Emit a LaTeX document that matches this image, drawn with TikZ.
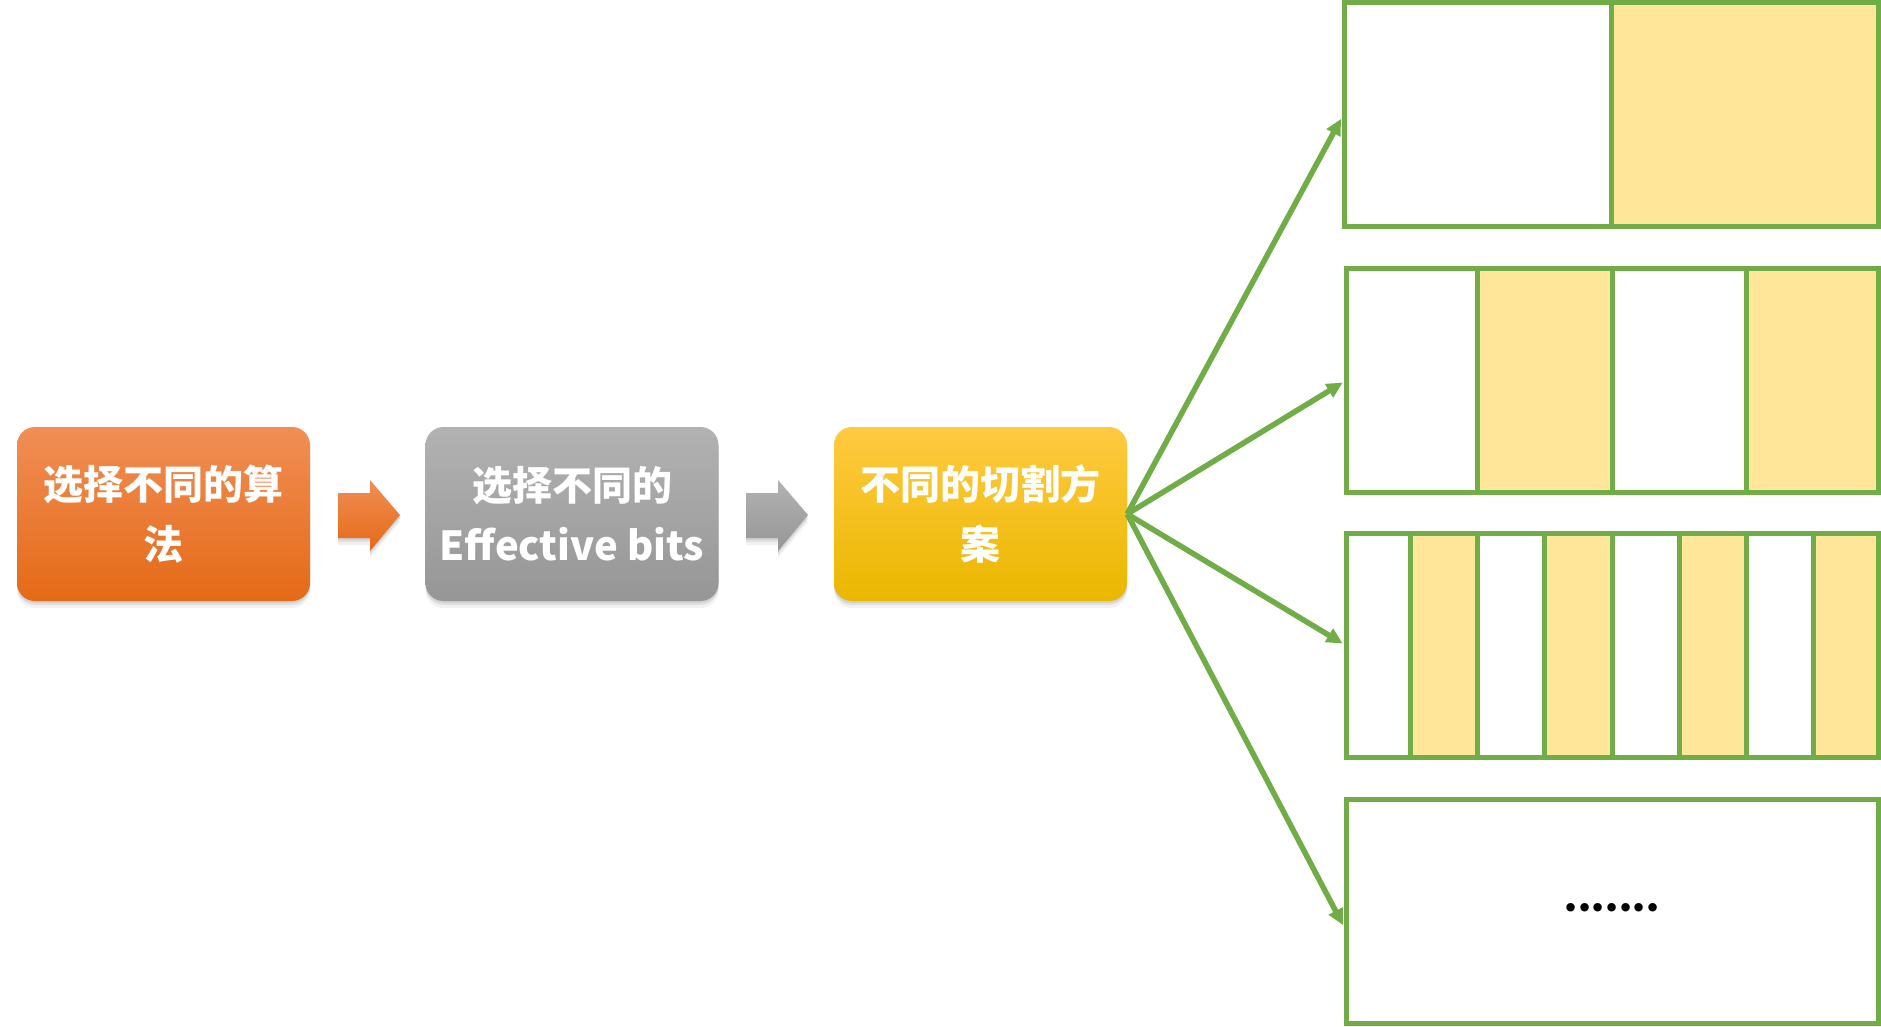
\documentclass[tikz,border=0pt]{standalone}
\usepackage{fontspec}
\newfontfamily\cjk{Noto Sans CJK SC}
\newfontfamily\dejavu{DejaVu Sans}
\usetikzlibrary{arrows.meta,shadows,calc,backgrounds}
\definecolor{orT}{RGB}{241,142,86}
\definecolor{orM}{RGB}{245,128,38}
\definecolor{orB}{RGB}{228,106,22}
\definecolor{grT}{RGB}{178,178,178}
\definecolor{grM}{RGB}{163,163,163}
\definecolor{grB}{RGB}{150,150,150}
\definecolor{ylT}{RGB}{255,202,64}
\definecolor{ylM}{RGB}{255,192,0}
\definecolor{ylB}{RGB}{234,183,0}
\definecolor{grn}{RGB}{112,173,71}
\definecolor{lyel}{RGB}{255,230,153}
\newcommand{\bulletrow}{•\kern-3.5pt•\kern-3.5pt•\kern-3.5pt•\kern-3.5pt•\kern-3.5pt•\kern-3.5pt•}
\tikzset{
  softshadow/.style={
    drop shadow={opacity=0.16, shadow xshift=0pt, shadow yshift=-2pt},
    drop shadow={opacity=0.14, shadow xshift=0pt, shadow yshift=-4pt},
    drop shadow={opacity=0.10, shadow xshift=0pt, shadow yshift=-7pt}},
  stepbox/.style={rectangle, rounded corners=18pt, minimum width=293pt,
    minimum height=174pt, inner sep=0pt, text=white, align=center,
    font=\cjk\bfseries\fontsize{40}{60}\selectfont, softshadow, shading=axis},
  cutbox/.style={rectangle, draw=grn, line width=5pt, minimum width=532pt,
    minimum height=224pt, inner sep=0pt},
  conn/.style={draw=grn, line width=5.5pt, -{Triangle[length=16pt,width=15pt]}, shorten >=1pt},
}
\begin{document}
\begin{tikzpicture}[x=1pt,y=-1pt]
\useasboundingbox (0,0) rectangle (1881,1026);

% process boxes
\node[stepbox, top color=orT, middle color=orM, bottom color=orB] (A) at (163.5,514)
  {选择不同的算\\法};
\node[stepbox, top color=grT, middle color=grM, bottom color=grB] (B) at (572,514)
  {选择不同的\\Effective bits};
\node[stepbox, top color=ylT, middle color=ylM, bottom color=ylB] (C) at (980.5,514)
  {不同的切割方\\案};

% block arrows
\shade[top color=orT, bottom color=orB, softshadow]
  (338,493) -- (370,493) -- (370,480) -- (400,515) -- (370,551) -- (370,538) -- (338,538) -- cycle;
\shade[top color=grT, bottom color=grB, softshadow]
  (746,493) -- (778,493) -- (778,480) -- (808,515) -- (778,551) -- (778,538) -- (746,538) -- cycle;

% cutting schemes
\node[cutbox, minimum width=534pt] (b1) at (1611,114.5) {};
\node[cutbox] (b2) at (1612,380.5) {};
\node[cutbox] (b3) at (1612,645.5) {};
\node[cutbox] (b4) at (1612,911.5) {};
\node[font=\dejavu\fontsize{29}{29}\selectfont] (dots) at (b4.center) {\bulletrow};

\begin{pgfonlayer}{background}
  \fill[white] (0,0) rectangle (1881,1026);
  \fill[lyel] (b1.north) rectangle (b1.south east);
  \foreach \a/\b in {0.25/0.5, 0.75/1} {
    \fill[lyel] ($(b2.north west)!\a!(b2.north east)$) rectangle ($(b2.south west)!\b!(b2.south east)$);
  }
  \foreach \a/\b in {0.125/0.25, 0.375/0.5, 0.625/0.75, 0.875/1} {
    \fill[lyel] ($(b3.north west)!\a!(b3.north east)$) rectangle ($(b3.south west)!\b!(b3.south east)$);
  }
\end{pgfonlayer}
\draw[grn, line width=5pt] (b1.north) -- (b1.south);
\foreach \a in {0.25,0.5,0.75} {
  \draw[grn, line width=5pt] ($(b2.north west)!\a!(b2.north east)$) -- ($(b2.south west)!\a!(b2.south east)$);
}
\foreach \a in {0.125,0.25,0.375,0.5,0.625,0.75,0.875} {
  \draw[grn, line width=5pt] ($(b3.north west)!\a!(b3.north east)$) -- ($(b3.south west)!\a!(b3.south east)$);
}

% connectors
\coordinate (e1) at (b1.west |- 0,118);
\coordinate (e2) at (b2.west |- 0,382);
\coordinate (e3) at (b3.west |- 0,644);
\coordinate (e4) at (b4.west |- 0,926);
\foreach \e in {e1,e2,e3,e4} {
  \draw[conn] (C.east) -- (\e);
}
\end{tikzpicture}
\end{document}
